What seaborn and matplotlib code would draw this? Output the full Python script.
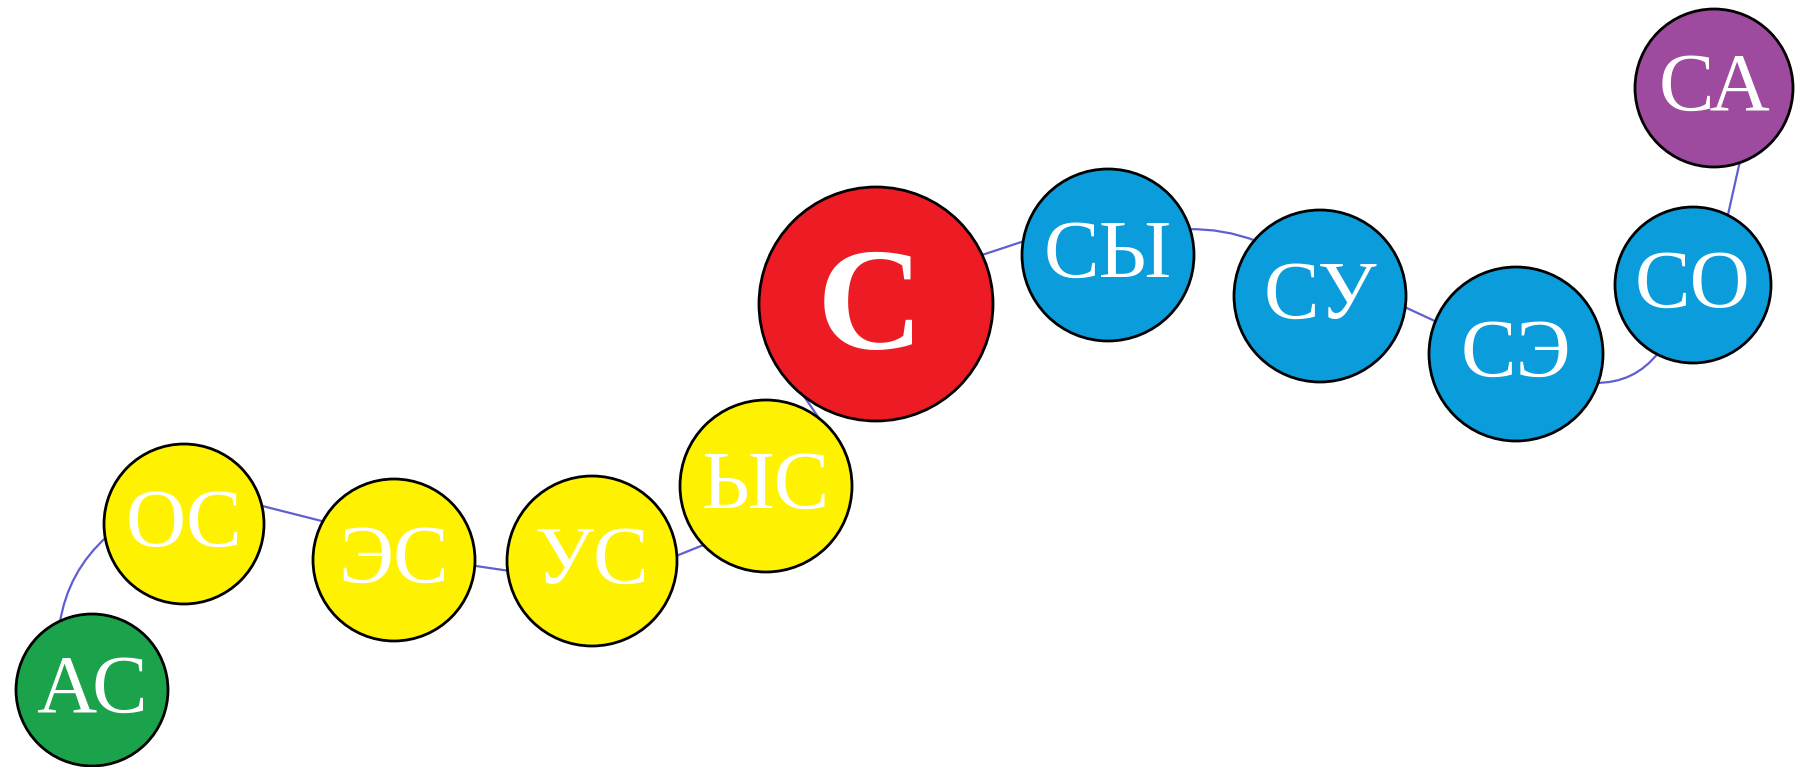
import matplotlib
matplotlib.use("Agg")
import numpy as np
import pandas as pd
import matplotlib.pyplot as plt
from matplotlib.patches import FancyArrowPatch
import seaborn as sns

# syllable chain: nodes, layout (pixel space) and node radius
labels = ['АС', 'ОС', 'ЭС', 'УС', 'ЫС', 'С', 'СЫ', 'СУ', 'СЭ', 'СО', 'СА']
node_x = [92, 184, 394, 592, 766, 876, 1108, 1320, 1516, 1693, 1714]
node_y = [690, 524, 560, 561, 486, 304, 255, 296, 354, 285, 88]
radius = [76, 80, 81, 85, 86, 117, 86, 86, 87, 78, 79]
group = ['end', 'before', 'before', 'before', 'before', 'root',
         'after', 'after', 'after', 'after', 'end2']

group_colors = {'end': '#1aa34a', 'before': '#fff200', 'root': '#ed1c24',
                'after': '#0b9ddb', 'end2': '#9e4a9e'}

# links: from, to, where they leave/enter each circle (deg, ccw), bend
edges = [('АС', 'ОС', 116, 189, -0.18),
         ('ОС', 'ЭС', 14, 151, 0.0),
         ('ЭС', 'УС', -4, 187, 0.0),
         ('УС', 'ЫС', 3, 224, 0.0),
         ('ЫС', 'С', 45, 225, 0.0),
         ('С', 'СЫ', 25, 170, 0.0),
         ('СЫ', 'СУ', 18, 139, -0.1),
         ('СУ', 'СЭ', -7, 158, 0.0),
         ('СЭ', 'СО', -20, 243, 0.25),
         ('СО', 'СА', 63, -70, 0.0)]

df = pd.DataFrame({'label': labels, 'x': node_x, 'y': node_y,
                   'r': radius, 'group': group})
dpi = 100
# marker area in pt^2 from pixel radius
df['s'] = (2 * df['r'] * 72 / dpi) ** 2

fig = plt.figure(figsize=(17.98, 7.67), dpi=dpi)
ax = fig.add_axes([0, 0, 1, 1])
ax.set_xlim(0, 1798)
ax.set_ylim(767, 0)
ax.axis('off')

node = df.set_index('label')


def port(name, ang):
    x, y, r = node.loc[name, 'x'], node.loc[name, 'y'], node.loc[name, 'r']
    a = np.radians(ang)
    return (x + 0.97 * r * np.cos(a), y - 0.97 * r * np.sin(a))


for a, b, ang_a, ang_b, rad in edges:
    p = FancyArrowPatch(port(a, ang_a), port(b, ang_b), arrowstyle='-',
                        connectionstyle='arc3,rad=%s' % rad,
                        color='#5f5fcf', lw=1.6, shrinkA=0, shrinkB=0,
                        zorder=1)
    ax.add_patch(p)

sns.scatterplot(data=df, x='x', y='y', hue='group', palette=group_colors,
                size='label', sizes=dict(zip(df['label'], df['s'])),
                edgecolor='black', linewidth=2.0, legend=False,
                ax=ax, zorder=2)

for lab, x, y in zip(labels, node_x, node_y):
    if lab == 'С':
        ax.text(x - 6, y + 10, lab, ha='center', va='center', color='white',
                fontsize=106, fontweight='bold', family='Liberation Serif',
                zorder=3)
    else:
        ax.text(x, y + 2, lab, ha='center', va='center', color='white',
                fontsize=60, family='Liberation Serif', zorder=3)

fig.savefig('out.png', dpi=dpi)
